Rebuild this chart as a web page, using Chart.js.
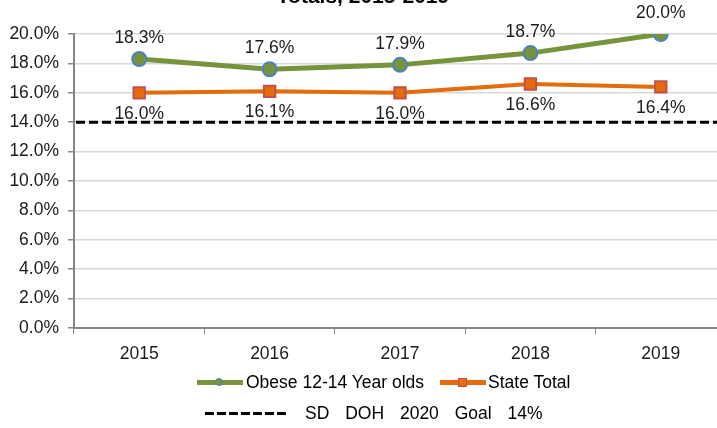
<!DOCTYPE html>
<html>
<head>
<meta charset="utf-8">
<script src="https://cdn.jsdelivr.net/npm/chart.js@4/dist/chart.umd.min.js"></script>
<style>
  body { margin: 0; width: 717px; height: 428px; overflow: hidden; background: #fff; position: relative; font-family: "Liberation Sans", Arial, sans-serif; color: #000; }
  #wrap { position: absolute; left: 0; top: -15px; width: 730px; height: 393px; }
  .leg { position: absolute; font-size: 17.5px; white-space: nowrap; line-height: 20px; }
  .sym { position: absolute; height: 5px; }
  .dot { position: absolute; width: 6px; height: 6px; border-radius: 50%; background: #77933C; border: 1.5px solid #4F81BD; }
  .sq { position: absolute; width: 7px; height: 7px; background: #E46C0A; border: 1.5px solid #C0504D; }
  .dash { position: absolute; height: 3px; background: repeating-linear-gradient(90deg, #000 0 9px, transparent 9px 12px); }
</style>
</head>
<body>
<div id="wrap"><canvas id="obesityChart" width="730" height="393"></canvas></div>

<!-- legend -->
<div class="sym" style="left:197px;top:380px;width:46px;background:#77933C"></div>
<div class="dot" style="left:215px;top:378px"></div>
<div class="leg" style="left:246px;top:372px">Obese 12-14 Year olds</div>
<div class="sym" style="left:440px;top:380px;width:46px;background:#E46C0A"></div>
<div class="sq" style="left:458px;top:378px"></div>
<div class="leg" style="left:488px;top:372px">State Total</div>
<div class="dash" style="left:205px;top:412px;width:84px"></div>
<div class="leg" style="left:305px;top:403px;word-spacing:11px">SD DOH 2020 Goal 14%</div>

<script>
const years = ['2015', '2016', '2017', '2018', '2019']
const obese1214 = [18.3, 17.6, 17.9, 18.7, 20.0]
const stateTotal = [16.0, 16.1, 16.0, 16.6, 16.4]
const goalValue = 14
const yTicksMax = 20
const yTicksStep = 2

const chartCanvas = document.getElementById("obesityChart")
const fontFamily = '"Liberation Sans", Arial, sans-serif'

// dashed goal line across the whole plot
const goalLine = {
  id: 'goalLine',
  beforeDatasetsDraw(chart) {
    const { ctx, chartArea, scales } = chart
    const y = scales.y.getPixelForValue(goalValue)
    ctx.save()
    ctx.strokeStyle = '#000'
    ctx.lineWidth = 3
    ctx.setLineDash([9, 4])
    ctx.beginPath()
    ctx.moveTo(chartArea.left + 2, y)
    ctx.lineTo(chartArea.right, y)
    ctx.stroke()
    ctx.restore()
  }
}

// value labels: green above, orange below
const valueLabels = {
  id: 'valueLabels',
  afterDatasetsDraw(chart) {
    const { ctx } = chart
    ctx.save()
    ctx.font = '17.5px ' + fontFamily
    ctx.fillStyle = '#1a1a1a'
    ctx.textAlign = 'center'
    ctx.textBaseline = 'middle'
    chart.data.datasets.forEach((ds, i) => {
      const meta = chart.getDatasetMeta(i)
      const dy = i == 0 ? -21 : 21
      meta.data.forEach((pt, j) => {
        ctx.fillText(ds.data[j].toFixed(1) + '%', pt.x, pt.y + dy)
      })
    })
    ctx.restore()
  }
}

new Chart(chartCanvas, {
  type: 'line',
  data: {
    labels: years,
    datasets: [{
      label: 'Obese 12-14 Year olds',
      data: obese1214,
      borderColor: '#77933C',
      borderWidth: 5,
      backgroundColor: '#77933C',
      pointBackgroundColor: '#77933C',
      pointBorderColor: '#4F81BD',
      pointBorderWidth: 2,
      pointRadius: 7,
      pointStyle: 'circle',
      tension: 0
    }, {
      label: 'State Total',
      data: stateTotal,
      borderColor: '#E46C0A',
      borderWidth: 4,
      backgroundColor: '#E46C0A',
      pointBackgroundColor: '#E46C0A',
      pointBorderColor: '#C0504D',
      pointBorderWidth: 2,
      pointRadius: 8,
      pointStyle: 'rect',
      tension: 0
    }]
  },
  options: {
    responsive: false,
    animation: false,
    layout: { autoPadding: false, padding: { left: 0, right: 4, top: 0, bottom: 3 } },
    plugins: {
      legend: { display: false },
      tooltip: { enabled: false },
      title: {
        display: true,
        text: 'Totals, 2015-2019',
        color: '#000',
        font: { family: fontFamily, size: 21, weight: 'bold' },
        padding: { top: 0, bottom: 23.8 }
      }
    },
    scales: {
      x: {
        offset: true,
        grid: { offset: true, drawOnChartArea: false, drawTicks: true, tickLength: 6, color: '#868686' },
        border: { color: '#868686', width: 2 },
        ticks: { color: '#1a1a1a', font: { family: fontFamily, size: 17.5 }, padding: 10 }
      },
      y: {
        min: 0,
        max: yTicksMax,
        afterFit(scale) { scale.width = 74 },
        grid: { color: '#d9d9d9', lineWidth: 1.5, tickLength: 6, tickColor: '#868686' },
        border: { color: '#868686', width: 2 },
        ticks: {
          stepSize: yTicksStep,
          color: '#1a1a1a',
          font: { family: fontFamily, size: 17.5 },
          padding: 9,
          callback: function(value) {
            return value.toFixed(1) + '%'
          }
        }
      }
    }
  },
  plugins: [goalLine, valueLabels]
})
</script>
</body>
</html>
